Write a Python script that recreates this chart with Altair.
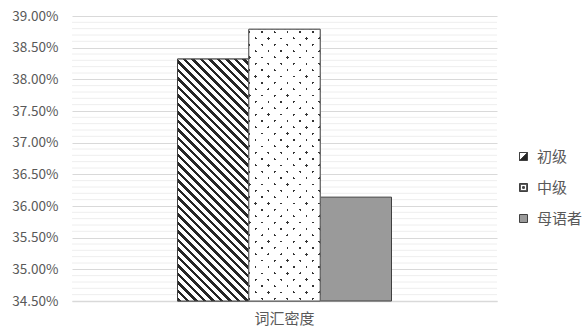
import altair as alt
import pandas as pd

# ---- data -----------------------------------------------------------------
levels = ["初级", "中级", "母语者"]
density = [0.3832, 0.3879, 0.3614]
category = "词汇密度"

major_ticks = [0.345, 0.35, 0.355, 0.36, 0.365, 0.37, 0.375, 0.38, 0.385, 0.39]
minor_ticks = [round(t + k * 0.001, 4) for t in major_ticks[:-1] for k in range(1, 5)]

# ---- geometry / style -------------------------------------------------------
W, H = 425, 285
Y_MIN, Y_MAX = major_ticks[0], major_ticks[-1]
GROUP_W = 214                      # width of the three touching bars together
PAD_OUTER = (W / GROUP_W - 1) / 2
BAR_W = GROUP_W / len(levels)

FONT = "Noto Sans CJK SC"
TEXT = "#595959"
EDGE = "#404040"
GRAY = "#9a9a9a"

df = pd.DataFrame({"cat": category, "level": levels, "value": density})
ticks_df = pd.DataFrame({"value": minor_ticks})


def bar_height(v):
    return (v - Y_MIN) / (Y_MAX - Y_MIN) * H


def stripe_fill(w, h, slope, period, band, ink, paper, phase=0.0):
    """Linear gradient with hard stops that paints 45-degree stripes on a
    w x h rectangle (gradient coordinates are in bounding-box units)."""
    L = w + h
    k = L / (w * w + h * h)
    if slope == "down":            # stripes running top-left -> bottom-right
        x1, y1, dx, dy, s0 = 1.0, 0.0, -w * k, h * k, -w
    else:                          # stripes running bottom-left -> top-right
        x1, y1, dx, dy, s0 = 0.0, 0.0, w * k, h * k, 0.0
    stops = [{"offset": 0.0, "color": paper}]
    n0 = int((s0 - phase) // period) - 1
    n1 = int((s0 + L - phase) // period) + 1
    for n in range(n0, n1 + 1):
        a = (phase + n * period - s0) / L
        b = a + band / L
        if b <= 0 or a >= 1:
            continue
        a, b = round(max(a, 0.0), 5), round(min(b, 1.0), 5)
        stops += [
            {"offset": a, "color": paper},
            {"offset": a, "color": ink},
            {"offset": b, "color": ink},
            {"offset": b, "color": paper},
        ]
    stops.append({"offset": 1.0, "color": paper})
    return {
        "gradient": "linear",
        "x1": x1, "y1": y1,
        "x2": round(x1 + dx, 5), "y2": round(y1 + dy, 5),
        "stops": stops,
    }


h_low = bar_height(density[0])
h_mid = bar_height(density[1])

hatch = stripe_fill(BAR_W, h_low, "down", 8.5, 3.7, "#262626", "#ffffff")
dots_rows = stripe_fill(BAR_W, h_mid, "down", 12.7, 2.5, "#333333", "#ffffff", 1.0)
dots_mask = stripe_fill(BAR_W, h_mid, "up", 12.7, 2.5, "rgba(255,255,255,0)", "#ffffff", 2.0)

# ---- encodings --------------------------------------------------------------
x_enc = alt.X(
    "cat:N",
    title=None,
    scale=alt.Scale(paddingInner=0, paddingOuter=PAD_OUTER),
    axis=alt.Axis(
        labelAngle=0, labelFont=FONT, labelFontSize=15, labelColor=TEXT,
        labelPadding=10, ticks=False, domain=True, domainColor="#d9d9d9",
        domainWidth=1.5, grid=False,
    ),
)
x_off = alt.XOffset("level:N", scale=alt.Scale(domain=levels, paddingInner=0, paddingOuter=0))
y_scale = alt.Scale(domain=[Y_MIN, Y_MAX], zero=False, nice=False)
y_axis = alt.Axis(
    values=major_ticks, format=".2%", labelFont=FONT, labelFontSize=13.5,
    labelColor=TEXT, labelPadding=14, ticks=False, domain=False,
    grid=True, gridColor="#d9d9d9", gridWidth=1,
)
y_enc = alt.Y("value:Q", title=None, scale=y_scale, axis=y_axis)
y_base = alt.Y2(datum=Y_MIN)

# light minor grid lines every 0.1 %
minor = alt.Chart(ticks_df).mark_rule(color="#eeeeee", strokeWidth=1).encode(y=y_enc)

# plain bars (grey one stays visible, the others get patterned overlays)
base = alt.Chart(df).mark_bar(stroke=EDGE, strokeWidth=1, fill=GRAY).encode(
    x=x_enc, xOffset=x_off, y=y_enc, y2=y_base
)

hatched = (
    alt.Chart(df)
    .transform_filter(alt.datum.level == levels[0])
    .mark_bar(stroke=EDGE, strokeWidth=1)
    .encode(x=x_enc, xOffset=x_off, y=y_enc, y2=y_base, fill=alt.value(hatch))
)

dotted_a = (
    alt.Chart(df)
    .transform_filter(alt.datum.level == levels[1])
    .mark_bar(strokeWidth=0)
    .encode(x=x_enc, xOffset=x_off, y=y_enc, y2=y_base, fill=alt.value(dots_rows))
)
dotted_b = (
    alt.Chart(df)
    .transform_filter(alt.datum.level == levels[1])
    .mark_bar(stroke="#595959", strokeWidth=1)
    .encode(x=x_enc, xOffset=x_off, y=y_enc, y2=y_base, fill=alt.value(dots_mask))
)

# legend symbols: hatched square, dotted square, grey square
sym_hatch = "M-1,-1H1V1H-1Z M-1,-1L-1,1L1,-1Z"
sym_dot = "M-1,-1H1V1H-1Z M-0.8,-0.8V0.8H0.8V-0.8Z M-0.22,-0.22H0.22V0.22H-0.22Z"

legend_opts = dict(
    title=None, orient="none", legendX=444, legendY=133, padding=0,
    symbolOpacity=1, symbolSize=64, symbolStrokeWidth=1,
    labelFont=FONT, labelFontSize=15, labelColor=TEXT,
    labelOffset=6, rowPadding=15,
)

legend_pts = alt.Chart(df).mark_point(filled=True, opacity=0).encode(
    x=x_enc,
    xOffset=x_off,
    y=y_enc,
    fill=alt.Fill(
        "level:N",
        scale=alt.Scale(domain=levels, range=["#262626", "#4a4a4a", GRAY]),
        legend=alt.Legend(**legend_opts),
    ),
    shape=alt.Shape(
        "level:N",
        scale=alt.Scale(domain=levels, range=[sym_hatch, sym_dot, "square"]),
        legend=alt.Legend(**legend_opts),
    ),
    stroke=alt.value(EDGE),
    strokeWidth=alt.value(1),
)

chart = (
    alt.layer(minor, base, hatched, dotted_a, dotted_b, legend_pts)
    .properties(
        width=W,
        height=H,
        autosize=alt.AutoSizeParams(type="none"),
        padding={"left": 72, "top": 16, "right": 90, "bottom": 28},
        background="white",
    )
    .configure_view(strokeWidth=0)
)

chart.save("out.html", embed_options={"renderer": "svg", "actions": False})
